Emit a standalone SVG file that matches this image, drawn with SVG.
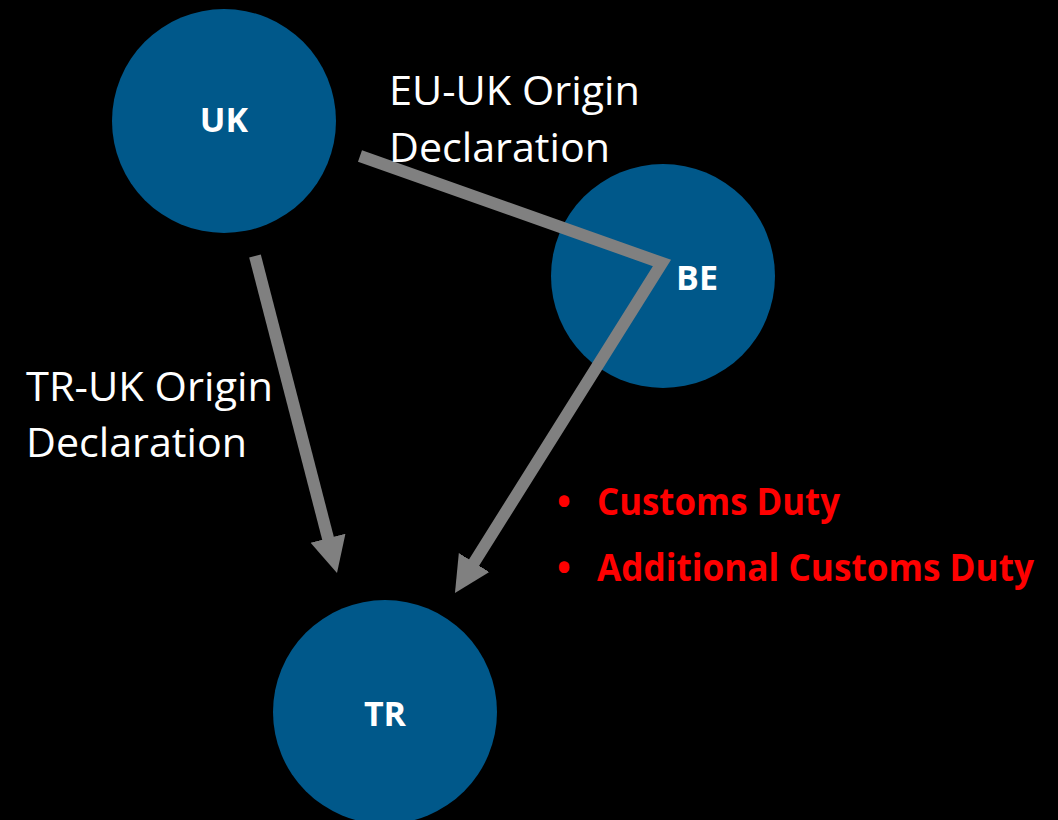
<svg xmlns="http://www.w3.org/2000/svg" width="1058" height="820" viewBox="0 0 1058 820">
<style>
.node{fill:#00588A}
.nl{font-family:"Open Sans","Liberation Sans",sans-serif;font-weight:bold;font-size:34px;fill:#fff;text-anchor:middle}
.lbl{font-family:"Open Sans","Liberation Sans",sans-serif;font-size:40px;fill:#fff}
.red{font-family:"Open Sans","Liberation Sans",sans-serif;font-weight:bold;font-size:37px;fill:#FF0000}
.conn{fill:none;stroke:#808080;stroke-width:12;stroke-linejoin:miter}
</style>
<defs>
<marker id="ah" markerUnits="userSpaceOnUse" markerWidth="40" markerHeight="40" refX="6" refY="0" viewBox="0 -20 40 40" orient="auto">
<path d="M0,-18 L36,0 L0,18 z" fill="#808080"/>
</marker>
</defs>
<rect width="1058" height="820" fill="#000"/>
<g id="node-uk"><circle class="node" cx="224" cy="121" r="112"/><text class="nl" x="224" y="132">UK</text></g>
<g id="node-be"><circle class="node" cx="663" cy="276" r="112"/><text class="nl" x="697" y="290">BE</text></g>
<g id="node-tr"><circle class="node" cx="385" cy="712" r="112"/><text class="nl" x="385" y="726">TR</text></g>
<g id="connectors">
<polyline class="conn" points="255,256 329.5,544" marker-end="url(#ah)"/>
<polyline class="conn" points="360,156 662,263 470.9,567.6" marker-end="url(#ah)"/>
</g>
<g id="labels">
<text class="lbl" x="389" y="105" textLength="251" lengthAdjust="spacingAndGlyphs">EU-UK Origin</text>
<text class="lbl" x="389" y="162" textLength="221" lengthAdjust="spacingAndGlyphs">Declaration</text>
<text class="lbl" x="26" y="401" textLength="247" lengthAdjust="spacingAndGlyphs">TR-UK Origin</text>
<text class="lbl" x="26" y="457" textLength="221" lengthAdjust="spacingAndGlyphs">Declaration</text>
<text class="red" x="557" y="515">•</text>
<text class="red" x="597" y="515" textLength="243" lengthAdjust="spacingAndGlyphs">Customs Duty</text>
<text class="red" x="557" y="581">•</text>
<text class="red" x="597" y="581" textLength="437" lengthAdjust="spacingAndGlyphs">Additional Customs Duty</text>
</g>
</svg>
